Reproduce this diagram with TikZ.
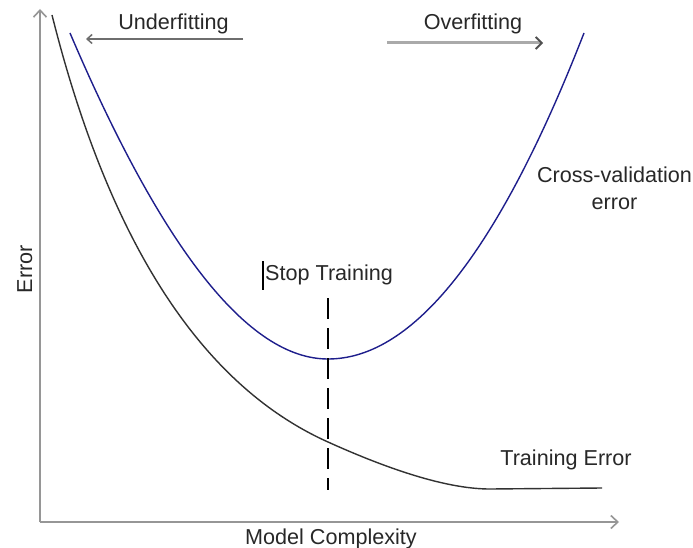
\documentclass[tikz,border=0pt]{standalone}
\usepackage{fontspec}
\setmainfont{Liberation Sans}
\usetikzlibrary{arrows.meta}
\definecolor{axisgray}{RGB}{150,150,150}
\definecolor{txt}{RGB}{40,40,40}
\definecolor{cvblue}{RGB}{30,30,140}
\definecolor{trgray}{RGB}{50,50,50}
\begin{document}
\begin{tikzpicture}[x=1pt,y=-1pt,
  lbl/.style={inner sep=0pt,outer sep=0pt,anchor=base,text=txt,font=\fontsize{21.6}{26}\selectfont},
  axis/.style={draw=axisgray,line width=2pt,-{Straight Barb[length=7pt,width=13pt,line width=1.6pt]}},
  curve/.style={line width=1.4pt},
]
\useasboundingbox[fill=white] (0,0) rectangle (693,548);
% axes
\coordinate (O) at (40,522);
\coordinate (ytop) at (40,9);
\coordinate (xend) at (619,522);
\draw[axis] (O) -- (ytop);
\draw[axis] (O) -- (xend);
% curves
\coordinate (b0) at (52,15);
\coordinate (b1) at (328,442);
\coordinate (b2) at (490,489);
\coordinate (b3) at (602,488);
\draw[curve,draw=trgray] (b0) .. controls (109,242) and (201,385) .. (b1)
  .. controls (397.3,473.3) and (451.3,489) .. (b2) -- (b3);
\coordinate (c0) at (70,33);
\coordinate (c1) at (328,359);
\coordinate (c2) at (584,33);
\draw[curve,draw=cvblue] (c0) .. controls (162.7,250.3) and (248.7,359) .. (c1)
  .. controls (414,359) and (499.3,250.3) .. (c2);
% stop line
\coordinate (s1) at (328,298);
\coordinate (s2) at (328,490);
\draw[line width=1.5pt,dash pattern=on 21pt off 9pt] (s1) -- (s2);
\coordinate (t1) at (263,261);
\coordinate (t2) at (263,290);
\draw[line width=1.3pt] (t1) -- (t2);
% labels
\node[lbl] (under) at (173.5,30) {Underfitting};
\node[lbl] (over) at (473,30) {Overfitting};
\node[lbl] (stop) at (329,280) {Stop Training};
\node[lbl] (cv1) at (614.5,183) {Cross-validation};
\node[lbl] (cv2) at (614.5,210) {error};
\node[lbl] (tr) at (566,465) {Training Error};
\node[lbl] (mc) at (331,544) {Model Complexity};
\node[lbl,rotate=90] (err) at (32,269) {Error};
% direction arrows
\coordinate (u1) at (243,39);
\coordinate (u2) at (86,39);
\draw[draw={rgb,255:red,110;green,110;blue,110},line width=1.6pt,-{Straight Barb[length=5pt,width=9pt,line width=1.5pt]}] (u1) -- (u2);
\coordinate (o1) at (387,43);
\coordinate (o2) at (543,43);
\draw[draw={rgb,255:red,170;green,170;blue,170},line width=3pt,-{Straight Barb[length=6pt,width=12pt,line width=1.8pt,color={rgb,255:red,80;green,80;blue,80}]}] (o1) -- (o2);
\end{tikzpicture}
\end{document}
